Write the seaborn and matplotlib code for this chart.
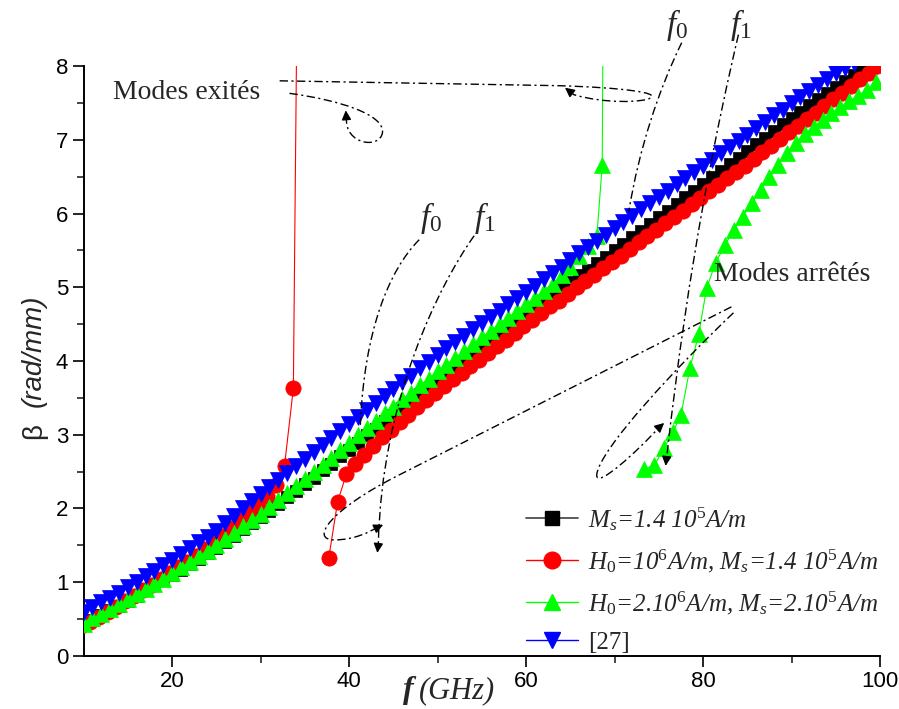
import matplotlib
matplotlib.use("Agg")
import matplotlib.pyplot as plt
import seaborn as sns
from matplotlib.path import Path
from matplotlib.patches import PathPatch
from matplotlib.lines import Line2D
from matplotlib import font_manager

# ---------------- data ----------------
# Ms = 1.4e5 A/m (no bias field)
f_ms = list(range(10, 100))
b_ms = [0.42, 0.49, 0.55, 0.62, 0.68, 0.75, 0.82, 0.89, 0.96, 1.03,
        1.10, 1.17, 1.25, 1.32, 1.40, 1.47, 1.55, 1.63, 1.72, 1.80,
        1.88, 1.97, 2.06, 2.15, 2.24, 2.33, 2.42, 2.52, 2.61, 2.71,
        2.80, 2.89, 2.99, 3.08, 3.18, 3.27, 3.36, 3.45, 3.55, 3.64,
        3.73, 3.82, 3.91, 4.00, 4.09, 4.18, 4.27, 4.36, 4.45, 4.54,
        4.63, 4.72, 4.81, 4.89, 4.98, 5.07, 5.16, 5.24, 5.33, 5.41,
        5.50, 5.59, 5.68, 5.77, 5.86, 5.95, 6.04, 6.13, 6.22, 6.31,
        6.40, 6.49, 6.58, 6.67, 6.76, 6.85, 6.94, 7.03, 7.12, 7.21,
        7.30, 7.38, 7.47, 7.55, 7.64, 7.72, 7.80, 7.88, 7.96, 8.04]

# H0 = 1e6 A/m, Ms = 1.4e5 A/m : branch below the resonance
f_h1_low = [9.7, 10.7, 11.7, 12.7, 13.7, 14.7, 15.7, 16.7, 17.7, 18.7,
            19.7, 20.7, 21.7, 22.7, 23.7, 24.7, 25.7, 26.7, 27.7, 28.7,
            29.7, 30.7, 31.7, 32.7, 33.7, 34.2]
b_h1_low = [0.40, 0.46, 0.53, 0.60, 0.67, 0.74, 0.81, 0.89, 0.96, 1.04,
            1.12, 1.20, 1.28, 1.36, 1.45, 1.54, 1.63, 1.73, 1.84, 1.95,
            2.06, 2.17, 2.32, 2.58, 3.63, 10.0]
# H0 = 1e6 A/m : branch above the resonance
f_h1_high = [37.7 + k for k in range(63)]
b_h1_high = [1.33, 2.09, 2.47, 2.61, 2.73, 2.85, 2.97, 3.07, 3.17, 3.27,
             3.38, 3.47, 3.56, 3.66, 3.75, 3.84, 3.93, 4.02, 4.11, 4.20,
             4.29, 4.38, 4.47, 4.56, 4.65, 4.74, 4.82, 4.91, 5.00, 5.08,
             5.17, 5.26, 5.34, 5.43, 5.52, 5.61, 5.69, 5.78, 5.87, 5.95,
             6.04, 6.13, 6.21, 6.30, 6.39, 6.48, 6.56, 6.65, 6.74, 6.83,
             6.92, 7.01, 7.10, 7.19, 7.28, 7.37, 7.46, 7.55, 7.64, 7.73,
             7.82, 7.91, 8.00]

# H0 = 2e6 A/m, Ms = 2e5 A/m
f_h2_low = list(range(10, 69)) + [68.6, 68.75]
b_h2_low = [0.44, 0.51, 0.57, 0.64, 0.70, 0.77, 0.84, 0.91, 0.98, 1.05,
            1.13, 1.20, 1.28, 1.35, 1.43, 1.51, 1.59, 1.67, 1.76, 1.84,
            1.93, 2.02, 2.12, 2.21, 2.30, 2.40, 2.49, 2.59, 2.69, 2.79,
            2.89, 2.99, 3.09, 3.19, 3.29, 3.38, 3.48, 3.57, 3.67, 3.76,
            3.86, 3.95, 4.04, 4.13, 4.23, 4.32, 4.41, 4.50, 4.59, 4.68,
            4.77, 4.86, 4.95, 5.05, 5.16, 5.28, 5.42, 5.56, 5.70,
            6.66, 10.0]
f_h2_high = [73.3, 74.5, 75.6, 76.6, 77.5, 78.5, 79.5, 80.4, 81.4, 82.5,
             83.5, 84.5, 85.5, 86.5, 87.5, 88.5, 89.5, 90.5, 91.5, 92.5,
             93.5, 94.5, 95.5, 96.5, 97.5, 98.5, 99.5]
b_h2_high = [2.53, 2.59, 2.82, 3.04, 3.27, 3.90, 4.36, 4.99, 5.33, 5.58,
             5.78, 5.96, 6.14, 6.32, 6.49, 6.66, 6.82, 6.96, 7.08, 7.18,
             7.27, 7.36, 7.44, 7.52, 7.60, 7.68, 7.78]

# reference [27]
f_ref = list(range(10, 98))
b_ref = [0.60, 0.66, 0.73, 0.79, 0.86, 0.93, 1.00, 1.08, 1.15, 1.23,
         1.30, 1.38, 1.46, 1.54, 1.62, 1.70, 1.80, 1.90, 2.00, 2.10,
         2.20, 2.29, 2.39, 2.48, 2.58, 2.67, 2.77, 2.86, 2.96, 3.05,
         3.15, 3.24, 3.34, 3.43, 3.53, 3.62, 3.71, 3.80, 3.90, 3.99,
         4.08, 4.17, 4.26, 4.34, 4.43, 4.52, 4.60, 4.68, 4.77, 4.85,
         4.93, 5.02, 5.11, 5.19, 5.28, 5.37, 5.46, 5.54, 5.63, 5.71,
         5.80, 5.89, 5.97, 6.06, 6.14, 6.23, 6.31, 6.40, 6.48, 6.57,
         6.65, 6.73, 6.82, 6.90, 6.99, 7.07, 7.16, 7.24, 7.33, 7.41,
         7.50, 7.58, 7.66, 7.74, 7.82, 7.90, 7.97, 8.04]

legend_labels = [r'$M_s$=1.4 10$^{\mathit{5}}$A/m',
                 r'$H_{\mathit{0}}$=10$^{\mathit{6}}$A/m, $M_s$=1.4 10$^{\mathit{5}}$A/m',
                 r'$H_{\mathit{0}}$=2.10$^{\mathit{6}}$A/m, $M_s$=2.10$^{\mathit{5}}$A/m',
                 '[27]']
x_ticks = [20, 40, 60, 80, 100]
y_ticks = [0, 1, 2, 3, 4, 5, 6, 7, 8]

# ---------------- style ----------------
sns.set_theme(style="ticks")


def have(name):
    try:
        font_manager.findfont(name, fallback_to_default=False)
        return True
    except Exception:
        return False


SANS = "Liberation Sans Narrow" if have("Liberation Sans Narrow") else "Liberation Sans"
SERIF = "Liberation Serif"
plt.rcParams["font.family"] = [SANS, "DejaVu Sans"]
plt.rcParams["mathtext.fontset"] = "custom"
plt.rcParams["mathtext.rm"] = SERIF
plt.rcParams["mathtext.it"] = SERIF + ":italic"
plt.rcParams["mathtext.bf"] = SERIF + ":bold:italic"

fig = plt.figure(figsize=(8.99, 7.09), dpi=100)
ax = fig.add_axes([0.093, 0.0748, 0.886, 0.832])

BLACK, RED, GREEN, BLUE = "#000000", "#ff0000", "#00ff00", "#0000ff"


def series(f, b, line_color, face, marker, ms, lw, z):
    sns.lineplot(x=f, y=b, ax=ax, color=line_color, marker=marker,
                 markersize=ms, markerfacecolor=face, markeredgecolor=face,
                 markeredgewidth=0.5, linewidth=lw, sort=False,
                 estimator=None, legend=False, zorder=z)


series(f_ms, b_ms, "#404040", BLACK, "s", 9, 1.0, 3)
series(f_h1_low, b_h1_low, RED, RED, "o", 11, 0.8, 4)
series(f_h1_high, b_h1_high, RED, RED, "o", 11, 0.8, 4)
series(f_h2_low, b_h2_low, GREEN, GREEN, "^", 12, 0.8, 5)
series(f_h2_high, b_h2_high, GREEN, GREEN, "^", 12, 0.8, 5)
series(f_ref, b_ref, BLUE, BLUE, "v", 12, 1.0, 6)

ax.set_xlim(10, 100)
ax.set_ylim(0, 8)
ax.set_xticks(x_ticks)
ax.set_xticks([30, 50, 70, 90], minor=True)
ax.set_yticks(y_ticks)
ax.set_yticks([0.5 + k for k in range(8)], minor=True)
ax.tick_params(which="major", direction="out", length=8, width=1.2,
               labelsize=16, pad=3, colors="black")
ax.tick_params(which="minor", direction="out", length=5, width=1.2)
for s in ("top", "right"):
    ax.spines[s].set_visible(False)
for s in ("left", "bottom"):
    ax.spines[s].set_linewidth(1.4)
    ax.spines[s].set_color("black")
ax.set_xlabel("")
ax.set_ylabel("")

# axis titles
fig.text(0.038, 0.392, "\u03b2", rotation=90, ha="center", va="center",
         fontsize=20, family=[SANS, "DejaVu Sans"])
fig.text(0.038, 0.505, "(rad/mm)", rotation=90, ha="center", va="center",
         fontsize=20, style="italic")
fig.text(0.448, 0.026, "f", ha="left", va="center", fontsize=23,
         family=SERIF, style="italic", weight="bold")
fig.text(0.466, 0.026, "(GHz)", ha="left", va="center", fontsize=22,
         family=SERIF, style="italic")

# legend
handles = [
    Line2D([], [], color="#404040", lw=1.2, marker="s", markersize=10,
           markerfacecolor=BLACK, markeredgecolor=BLACK),
    Line2D([], [], color=RED, lw=1.0, marker="o", markersize=12,
           markerfacecolor=RED, markeredgecolor=RED),
    Line2D([], [], color=GREEN, lw=1.0, marker="^", markersize=12,
           markerfacecolor=GREEN, markeredgecolor=GREEN),
    Line2D([], [], color=BLUE, lw=1.0, marker="v", markersize=12,
           markerfacecolor=BLUE, markeredgecolor=BLUE),
]
leg = fig.legend(handles, legend_labels, loc="upper left",
                 bbox_to_anchor=(0.585, 0.288), frameon=False,
                 prop={"family": SERIF, "style": "italic", "size": 18},
                 handlelength=2.1, handletextpad=0.4, labelspacing=0.58,
                 borderpad=0, borderaxespad=0)
leg.get_texts()[3].set_fontstyle("normal")

# dash-dot guide curves with arrowheads
DASH = (0, (6, 2.5, 1.5, 2.5))


def guide(verts, codes, arrow=None):
    patch = PathPatch(Path(verts, codes), facecolor="none", edgecolor="black",
                      lw=1.0, linestyle=DASH, clip_on=False, zorder=7)
    ax.add_patch(patch)
    if arrow is not None:
        start, tip = arrow
        ax.annotate("", xy=tip, xytext=start, annotation_clip=False,
                    arrowprops=dict(arrowstyle="-|>", color="black", lw=1.0,
                                    mutation_scale=14, shrinkA=0, shrinkB=0),
                    zorder=7)


M, L, C = Path.MOVETO, Path.LINETO, Path.CURVE4

# "Modes exités": two loops
guide([(33.27, 7.63), (38.91, 7.54), (43.99, 7.34), (43.77, 7.10),
       (43.53, 6.87), (39.47, 6.93), (39.70, 7.30)],
      [M, C, C, C, C, C, C], arrow=((39.70, 7.28), (39.62, 7.40)))
guide([(32.15, 7.80), (63.71, 7.734), (71.04, 7.707), (74.99, 7.639),
       (74.09, 7.571), (73.30, 7.503), (68.79, 7.490), (65.40, 7.612)],
      [M, L, C, C, C, C, C, C], arrow=((65.40, 7.612), (64.39, 7.707)))
# f0 / f1, left group
guide([(47.92, 5.645), (44.54, 5.237), (41.72, 4.423), (41.27, 3.134)],
      [M, C, C, C])
guide([(54.13, 5.699), (50.18, 5.034), (43.64, 3.474), (43.30, 1.506)],
      [M, C, C, C], arrow=((43.30, 1.52), (43.19, 1.398)))
# "Modes arrêtés": two loops
guide([(83.20, 4.735), (45.67, 2.456), (37.78, 1.981), (35.52, 1.574),
       (38.34, 1.574), (40.59, 1.574), (42.29, 1.682), (43.08, 1.737)],
      [M, L, C, C, C, C, C, C], arrow=((43.00, 1.732), (43.85, 1.780)))
guide([(83.43, 4.654), (77.23, 3.948), (68.21, 2.795), (67.98, 2.456),
       (67.87, 2.252), (72.72, 2.795), (74.98, 3.094)],
      [M, C, C, C, C, C, C], arrow=((74.90, 3.085), (75.60, 3.160)))
# f0 / f1, right group
guide([(77.58, 8.317), (74.98, 7.680), (72.73, 6.866), (71.60, 6.024)],
      [M, C, C, C])
guide([(83.99, 8.426), (81.74, 7.273), (78.36, 5.373), (75.88, 2.687)],
      [M, C, C, C], arrow=((75.88, 2.70), (75.77, 2.578)))

# annotation texts
tkw = dict(family=SERIF, fontsize=20, va="center", clip_on=False, zorder=8)
ax.text(13.3, 7.64, "Modes exités", ha="left", **tkw)
ax.text(81.2, 5.17, "Modes arrêtés", ha="left", **tkw)
for x, y, lab in [(49.3, 5.94, r"$\mathit{f_0}$"), (55.3, 5.94, r"$\mathit{f_1}$"),
                  (77.0, 8.56, r"$\mathit{f_0}$"), (84.2, 8.56, r"$\mathit{f_1}$")]:
    ax.text(x, y, lab, ha="center", family=SERIF, fontsize=24, va="center",
            clip_on=False, zorder=8)

fig.savefig("out.png", dpi=100)
